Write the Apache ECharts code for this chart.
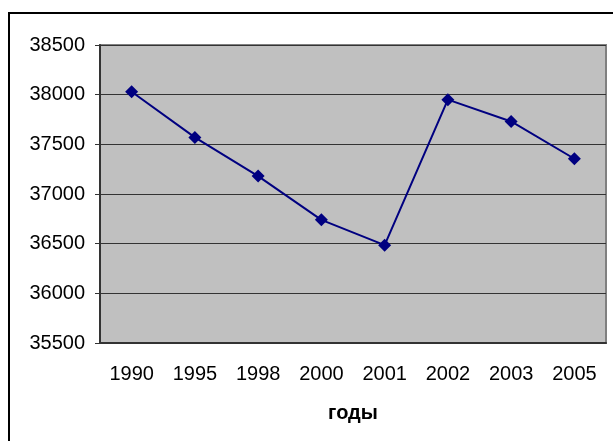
<!DOCTYPE html>
<html>
<head>
<meta charset="utf-8">
<script src="https://cdn.jsdelivr.net/npm/echarts@6/dist/echarts.min.js"></script>
<style>
  html, body { margin: 0; padding: 0; background: #fff; }
  #chart { width: 613px; height: 441px; }
</style>
</head>
<body>
<div id="chart"></div>
<script>
  // годы и значения
  const years = ['1990', '1995', '1998', '2000', '2001', '2002', '2003', '2005'];
  const values = [38030, 37570, 37180, 36740, 36485, 37950, 37730, 37355];
  const yMin = 35500;
  const yMax = 38500;
  const yStep = 500;

  let chart = echarts.init(document.getElementById('chart'));
  chart.setOption({
    animation: false,
    textStyle: { fontFamily: 'Liberation Sans, Arial, sans-serif' },
    graphic: [{
      type: 'rect',
      shape: { x: 9, y: 13, width: 640, height: 460 },
      style: { fill: 'none', stroke: '#000', lineWidth: 2 },
      z: 100
    }],
    grid: {
      left: 100,
      top: 45,
      right: 7,
      bottom: 98,
      show: true,
      backgroundColor: '#c0c0c0',
      borderColor: '#808080',
      borderWidth: 2
    },
    xAxis: {
      type: 'category',
      data: years,
      boundaryGap: true,
      name: 'годы',
      nameLocation: 'middle',
      nameGap: 60,
      nameTextStyle: { color: '#000', fontSize: 20, fontWeight: 'bold' },
      axisLine: { lineStyle: { color: '#333', width: 2 } },
      axisTick: { length: 5, alignWithLabel: false, lineStyle: { color: '#333' } },
      axisLabel: { color: '#000', fontSize: 20, margin: 21 }
    },
    yAxis: {
      type: 'value',
      min: yMin,
      max: yMax,
      interval: yStep,
      axisLine: { show: true, lineStyle: { color: '#333', width: 2 } },
      axisTick: { show: true, length: 5, lineStyle: { color: '#333' } },
      axisLabel: { color: '#000', fontSize: 20, margin: 15, formatter: v => String(v) },
      splitLine: { lineStyle: { color: '#333', width: 1 } }
    },
    series: [{
      type: 'line',
      data: values,
      symbol: 'diamond',
      symbolSize: 13,
      lineStyle: { color: '#000080', width: 2 },
      itemStyle: { color: '#000080' }
    }]
  });
</script>
</body>
</html>
